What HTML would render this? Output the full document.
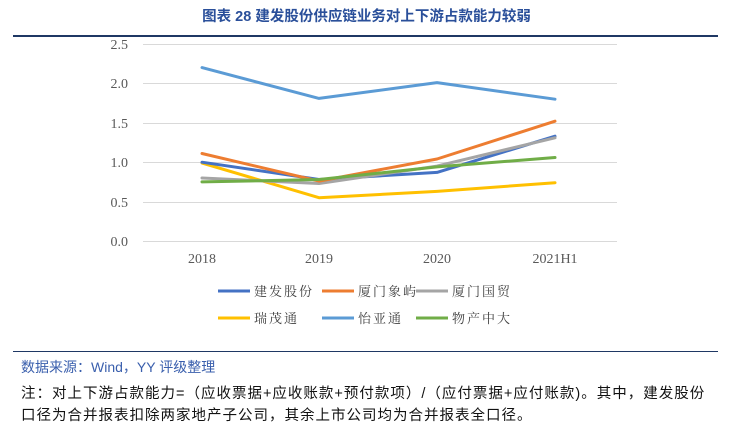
<!DOCTYPE html><html><head><meta charset="utf-8"><style>
body{margin:0;width:733px;height:433px;background:#fff;overflow:hidden;font-family:"Liberation Sans","Noto Sans CJK SC",sans-serif;position:relative}
.t{position:absolute;white-space:nowrap}
</style></head><body>
<div class="t" style="left:0;width:733px;top:5px;text-align:center;font-size:14.5px;font-weight:bold;color:#2a4f9a">图表 28 建发股份供应链业务对上下游占款能力较弱</div>
<div style="position:absolute;left:13px;top:35px;width:705px;height:2px;background:#1f3864"></div>
<svg width="733" height="433" style="position:absolute;left:0;top:0" font-family="Liberation Serif, Noto Serif CJK SC, serif">
<g stroke="#d9d9d9" stroke-width="1">
<line x1="143" x2="617" y1="44.5" y2="44.5"/><line x1="143" x2="617" y1="83.5" y2="83.5"/><line x1="143" x2="617" y1="123.5" y2="123.5"/><line x1="143" x2="617" y1="162.5" y2="162.5"/><line x1="143" x2="617" y1="202.5" y2="202.5"/><line x1="143" x2="617" y1="241.5" y2="241.5"/></g>
<g font-size="14" fill="#595959" text-anchor="end">
<text x="128" y="49">2.5</text><text x="128" y="88">2.0</text><text x="128" y="128">1.5</text><text x="128" y="167">1.0</text><text x="128" y="207">0.5</text><text x="128" y="246">0.0</text></g>
<g font-size="14" fill="#595959" text-anchor="middle">
<text x="202" y="263">2018</text><text x="319" y="263">2019</text><text x="437" y="263">2020</text><text x="555" y="263">2021H1</text></g>
<g fill="none" stroke-width="3" stroke-linejoin="round" stroke-linecap="round">
<polyline stroke="#5B9BD5" points="202,67.6 319,98.4 437,82.6 555,99.2"/>
<polyline stroke="#FFC000" points="202,163 319,197.7 437,191.4 555,182.7"/>
<polyline stroke="#4472C4" points="202,162.2 319,179.5 437,172.4 555,136.2"/>
<polyline stroke="#A5A5A5" points="202,178 319,183.5 437,166.1 555,137.8"/>
<polyline stroke="#ED7D31" points="202,153.5 319,181.1 437,159 555,121.2"/>
<polyline stroke="#70AD47" points="202,181.9 319,179.5 437,166.9 555,157.5"/>
</g>
<g stroke-width="3">
<line x1="218" x2="250" y1="291" y2="291" stroke="#4472C4"/><line x1="322" x2="354" y1="291" y2="291" stroke="#ED7D31"/><line x1="416" x2="448" y1="291" y2="291" stroke="#A5A5A5"/>
<line x1="218" x2="250" y1="318" y2="318" stroke="#FFC000"/><line x1="322" x2="354" y1="318" y2="318" stroke="#5B9BD5"/><line x1="416" x2="448" y1="318" y2="318" stroke="#70AD47"/></g>
<g font-size="13" fill="#404040" letter-spacing="2">
<text x="254" y="296">建发股份</text><text x="358" y="296">厦门象屿</text><text x="452" y="296">厦门国贸</text>
<text x="254" y="323">瑞茂通</text><text x="358" y="323">怡亚通</text><text x="452" y="323">物产中大</text></g>
</svg>
<div style="position:absolute;left:13px;top:351px;width:705px;height:1px;background:#1f3864"></div>
<div class="t" style="left:21px;top:357px;font-size:14px;color:#3a5fad">数据来源：Wind，YY 评级整理</div>
<div class="t" style="left:21px;top:382px;font-size:14.5px;color:#111;letter-spacing:1px">注：对上下游占款能力=（应收票据+应收账款+预付款项）/（应付票据+应付账款)。其中，建发股份</div>
<div class="t" style="left:21px;top:404px;font-size:14.5px;color:#111;letter-spacing:1px">口径为合并报表扣除两家地产子公司，其余上市公司均为合并报表全口径。</div>
</body></html>
